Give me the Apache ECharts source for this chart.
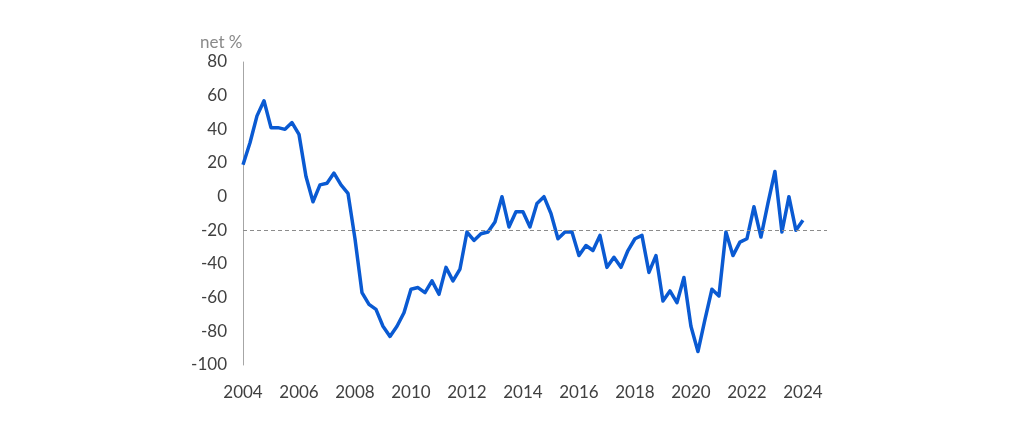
<!DOCTYPE html>
<html>
<head>
<meta charset="utf-8">
<script src="https://cdn.jsdelivr.net/npm/echarts@6/dist/echarts.min.js"></script>
<style>
html,body{margin:0;padding:0;background:#fff;}
#chart{width:1024px;height:424px;}
</style>
</head>
<body>
<div id="chart"></div>
<script>
// Quarterly series starting 2004 Q1 (net %)
const startYear = 2004;
const quarterlyValues = [
  19, 32, 48, 57, 41, 41, 40, 44, 37, 12,
  -3, 7, 8, 14, 7, 2, -25, -57, -64, -67,
  -77, -83, -77, -69, -55, -54, -57, -50, -58, -42,
  -50, -43, -21, -26, -22, -21, -15, 0, -18, -9,
  -9, -18, -4, 0, -10, -25, -21, -21, -35, -29,
  -32, -23, -42, -36, -42, -32, -25, -23, -45, -35,
  -62, -56, -63, -48, -77, -92, -73, -55, -59, -21,
  -35, -27, -25, -6, -24, -4, 15, -21, 0, -20,
  -14
];
const referenceLevel = -20;
const yTicks = { min: -100, max: 80, step: 20 };
const xTicks = { min: 2004, max: 2024.86, step: 2 };

const seriesData = quarterlyValues.map((v, i) => [startYear + i / 4, v]);

const chart = echarts.init(document.getElementById('chart'), null, { renderer: 'canvas' });
chart.setOption({
  animation: false,
  backgroundColor: '#ffffff',
  title: {
    text: 'net %',
    left: 195, top: 29,
    textStyle: { fontFamily: 'Lato', fontSize: 17, fontWeight: 'normal', color: '#8a8a8a' }
  },
  grid: { left: 243, right: 197, top: 62, bottom: 59, containLabel: false },
  xAxis: {
    type: 'value',
    min: xTicks.min, max: xTicks.max, interval: xTicks.step,
    axisLine: { show: false },
    axisTick: { show: false },
    splitLine: { show: false },
    axisLabel: {
      showMaxLabel: false,
      margin: 19,
      fontFamily: 'Lato', fontSize: 17, color: '#404040',
      formatter: v => String(Math.round(v))
    }
  },
  yAxis: {
    type: 'value',
    min: yTicks.min, max: yTicks.max, interval: yTicks.step,
    axisLine: { show: true, lineStyle: { color: '#a6a6a6', width: 1 } },
    axisTick: { show: false },
    splitLine: { show: false },
    axisLabel: { margin: 16, fontFamily: 'Lato', fontSize: 17, color: '#404040' }
  },
  series: [{
    type: 'line',
    data: seriesData,
    symbol: 'none',
    lineStyle: { color: '#0a5ad2', width: 3.5, join: 'round' },
    markLine: {
      silent: true,
      symbol: 'none',
      label: { show: false },
      lineStyle: { color: '#8c8c8c', type: [4, 3], width: 1 },
      data: [{ yAxis: referenceLevel }]
    }
  }]
});
</script>
</body>
</html>
